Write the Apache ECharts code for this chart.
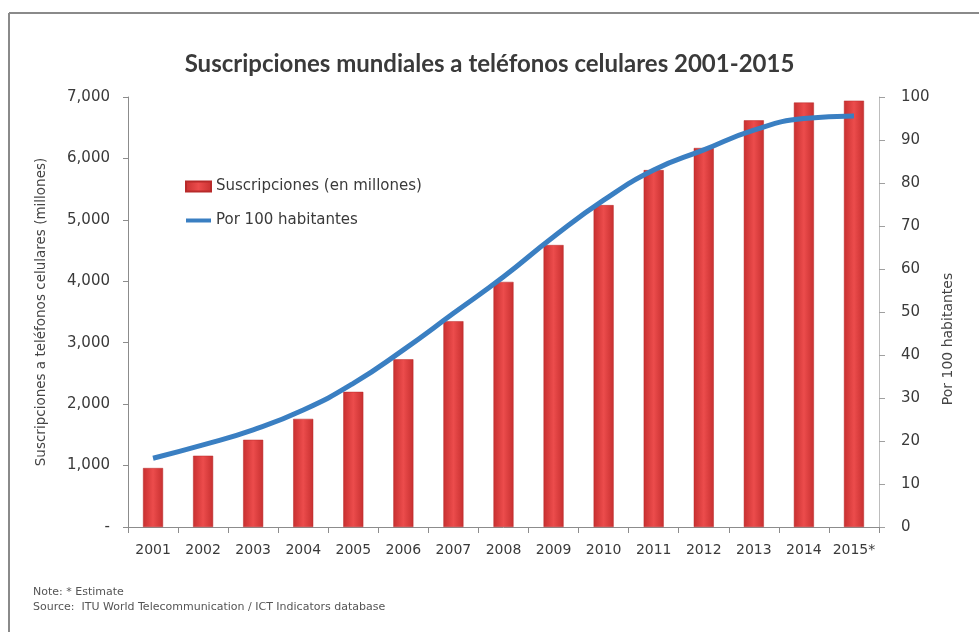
<!DOCTYPE html>
<html>
<head>
<meta charset="utf-8">
<script src="https://cdn.jsdelivr.net/npm/echarts@6/dist/echarts.min.js"></script>
<style>
  html, body { margin: 0; padding: 0; background: #ffffff; }
  #chart { width: 979px; height: 636px; }
</style>
</head>
<body>
<div id="chart"></div>
<script>
// Years on the category axis (2015 is an estimate)
const years = ['2001', '2002', '2003', '2004', '2005', '2006', '2007', '2008',
               '2009', '2010', '2011', '2012', '2013', '2014', '2015*'];

// Mobile-cellular subscriptions, millions
const subscriptions = [960, 1160, 1420, 1760, 2200, 2730, 3350, 3990,
                       4590, 5240, 5810, 6170, 6620, 6910, 6940];

// Subscriptions per 100 inhabitants
const per100 = [16.0, 19.1, 22.6, 27.2, 33.4, 41.2, 49.7, 58.2,
                67.5, 76.0, 83.0, 87.7, 92.3, 95.0, 95.6];

const leftTicks = { min: 0, max: 7000, interval: 1000 };
const rightTicks = { min: 0, max: 100, interval: 10 };

const TITLE_FONT = 'Lato, "Liberation Sans", sans-serif';
const FONT = '"DejaVu Sans", "Liberation Sans", sans-serif';
const chart = echarts.init(document.getElementById('chart'), null, { renderer: 'canvas' });

const axisGray = '#8c8c8c';
const labelColor = '#3a3a3a';

chart.setOption({
  backgroundColor: '#ffffff',
  animation: false,
  textStyle: { fontFamily: FONT },
  title: {
    text: 'Suscripciones mundiales a teléfonos celulares 2001-2015',
    left: 'center',
    top: 47,
    textStyle: { fontFamily: TITLE_FONT, fontSize: 24, fontWeight: 'bold', color: '#3a3a3a' }
  },
  legend: {
    orient: 'vertical',
    left: 180,
    top: 174,
    itemGap: 19,
    itemWidth: 25,
    itemHeight: 10,
    textStyle: { fontFamily: FONT, fontSize: 15, color: labelColor },
    data: [
      { name: 'Suscripciones (en millones)', icon: 'rect' },
      { name: 'Por 100 habitantes', icon: 'path://M0,0 L25,0 L25,4 L0,4 Z' }
    ]
  },
  grid: { left: 128, right: 100, top: 97, bottom: 109 },
  xAxis: {
    type: 'category',
    data: years,
    boundaryGap: true,
    axisLine: { show: true, lineStyle: { color: axisGray, width: 1 } },
    axisTick: { show: true, length: 6, lineStyle: { color: axisGray } },
    axisLabel: { interval: 0, margin: 16, fontFamily: FONT, fontSize: 14, color: labelColor },
    splitLine: { show: false }
  },
  yAxis: [
    {
      type: 'value',
      min: leftTicks.min,
      max: leftTicks.max,
      interval: leftTicks.interval,
      name: 'Suscripciones a teléfonos celulares (millones)',
      nameLocation: 'middle',
      nameGap: 80,
      nameRotate: 90,
      nameTextStyle: { fontFamily: FONT, fontSize: 13.5, color: '#444444' },
      axisLine: { show: true, lineStyle: { color: axisGray, width: 1 } },
      axisTick: { show: true, length: 5, lineStyle: { color: axisGray } },
      axisLabel: {
        margin: 18,
        fontFamily: FONT,
        fontSize: 15,
        color: labelColor,
        formatter: v => v === 0 ? '-' : v.toLocaleString('en-US')
      },
      splitLine: { show: false }
    },
    {
      type: 'value',
      position: 'right',
      min: rightTicks.min,
      max: rightTicks.max,
      interval: rightTicks.interval,
      axisLine: { show: true, lineStyle: { color: '#bdbdbd', width: 1 } },
      axisTick: { show: true, length: 6, lineStyle: { color: '#a0a0a0' } },
      axisLabel: { margin: 22, fontFamily: FONT, fontSize: 15, color: labelColor },
      splitLine: { show: false }
    }
  ],
  series: [
    {
      name: 'Suscripciones (en millones)',
      type: 'bar',
      yAxisIndex: 0,
      data: subscriptions,
      barWidth: '40%',
      itemStyle: {
        color: new echarts.graphic.LinearGradient(0, 0, 1, 0, [
          { offset: 0, color: '#c83030' },
          { offset: 0.5, color: '#ec4c4c' },
          { offset: 1, color: '#c83030' }
        ]),
        borderColor: '#b82a2a',
        borderWidth: 0.5
      },
      z: 2
    },
    {
      name: 'Por 100 habitantes',
      type: 'line',
      yAxisIndex: 1,
      data: per100,
      smooth: true,
      symbol: 'none',
      lineStyle: { color: '#3a7fc2', width: 5 },
      itemStyle: { color: '#3a7fc2' },
      z: 3
    }
  ],
  graphic: [
    // outer frame: top and left edges
    { type: 'line', shape: { x1: 9, y1: 13, x2: 979, y2: 13 }, style: { stroke: '#8a8a8a', lineWidth: 2 } },
    { type: 'line', shape: { x1: 9, y1: 13, x2: 9, y2: 632 }, style: { stroke: '#8a8a8a', lineWidth: 2 } },
    // right-hand axis title, read bottom to top
    {
      type: 'text',
      x: 948, y: 339,
      rotation: Math.PI / 2,
      style: {
        text: 'Por 100 habitantes',
        font: '14px ' + FONT,
        fill: '#444444',
        align: 'center',
        verticalAlign: 'middle'
      }
    },
    {
      type: 'text', left: 33, top: 587,
      style: { text: 'Note: * Estimate', font: '11px ' + FONT, fill: '#555555' }
    },
    {
      type: 'text', left: 33, top: 602,
      style: { text: 'Source:  ITU World Telecommunication / ICT Indicators database', font: '11px ' + FONT, fill: '#555555' }
    }
  ]
});
</script>
</body>
</html>
